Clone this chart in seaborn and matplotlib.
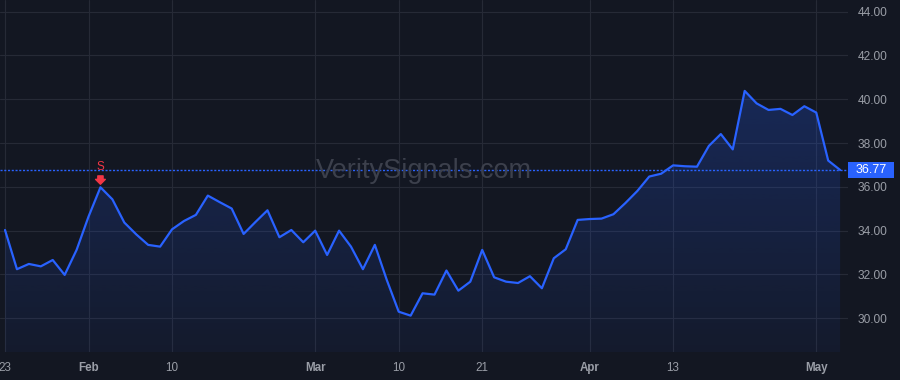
import numpy as np
import pandas as pd
import matplotlib
matplotlib.use("Agg")
import matplotlib.pyplot as plt
from matplotlib.patches import Rectangle
from matplotlib.colors import LinearSegmentedColormap
import matplotlib.transforms as mtransforms
import seaborn as sns

# ---------------- data ----------------
prices = [34.03, 32.24, 32.48, 32.37, 32.66, 31.98, 33.12, 34.64, 35.98, 35.43,
          34.37, 33.83, 33.35, 33.27, 34.06, 34.44, 34.72, 35.60, 35.30, 35.01,
          33.85, 34.40, 34.93, 33.70, 34.03, 33.47, 34.00, 32.89, 34.00, 33.27,
          32.24, 33.35, 31.75, 30.30, 30.12, 31.14, 31.08, 32.18, 31.26, 31.67,
          33.12, 31.87, 31.67, 31.61, 31.92, 31.37, 32.74, 33.15, 34.49, 34.53,
          34.55, 34.75, 35.26, 35.81, 36.47, 36.60, 36.98, 36.94, 36.92, 37.87,
          38.41, 37.71, 40.38, 39.81, 39.51, 39.56, 39.28, 39.68, 39.39, 37.20,
          36.77]
day_index = list(range(len(prices)))          # trading-day index (23 Jan .. 3 May)
tick_days = [0, 7, 14, 26, 33, 40, 49, 56, 68]
tick_labels = ["23", "Feb", "10", "Mar", "10", "21", "Apr", "13", "May"]
month_labels = {"Feb", "Mar", "Apr", "May"}
y_ticks = [30, 32, 34, 36, 38, 40, 42, 44]
signal_day = 8
signal_text = "S"
watermark = "VeritySignals.com"

df = pd.DataFrame({"day": day_index, "price": prices})

# ---------------- style ----------------
BG = "#131722"
GRID = "#262a36"
BLUE = "#2962ff"
RED = "#f23645"
TXT = "#9a9ea7"

sns.set_theme(style="dark", rc={
    "axes.facecolor": BG, "figure.facecolor": BG,
    "axes.edgecolor": BG, "grid.color": GRID,
})
plt.rcParams["font.family"] = ["Liberation Sans", "DejaVu Sans"]

fig = plt.figure(figsize=(9, 3.8), dpi=100)
ax = fig.add_axes([0.0, 28 / 380, 848 / 900, 352 / 380])
ax.set_facecolor(BG)

ylo, yhi = 28.46, 44.53

# gradient fill under the line
poly = ax.fill_between(df["day"], df["price"], ylo, color="none", lw=0)
path = poly.get_paths()[0]
cmap = LinearSegmentedColormap.from_list(
    "g", [(0, (41/255, 98/255, 1.0, 0.05)), (1, (41/255, 98/255, 1.0, 0.24))])
grad = np.linspace(0, 1, 256).reshape(-1, 1)
im = ax.imshow(grad, cmap=cmap, origin="lower", aspect="auto",
               extent=[df["day"].min(), df["day"].max(), ylo, max(prices)],
               zorder=1)
im.set_clip_path(path, transform=ax.transData)
ax.set_xlim(-0.42, 70.66)
ax.set_ylim(ylo, yhi)

sns.lineplot(data=df, x="day", y="price", ax=ax, color=BLUE, linewidth=1.6,
             zorder=3)

# last price dotted line + label
last = prices[-1]
ax.axhline(last, color=BLUE, lw=1.0, ls=(0, (1.5, 1.2)), zorder=2)
trans = mtransforms.blended_transform_factory(ax.transAxes, ax.transData)
box_h = 0.76
rect = Rectangle((1.0, last - box_h / 2), 46 / 848, box_h, transform=trans,
                 facecolor=BLUE, edgecolor="none", clip_on=False, zorder=5)
ax.add_patch(rect)
ax.text(1.0 + 23 / 848, last, f"{last:.2f}", transform=trans, ha="center",
        va="center", color="white", fontsize=9.0, clip_on=False, zorder=6)

# signal marker
peak = prices[signal_day]
ax.annotate("", xy=(signal_day, peak), xytext=(0, 8.2), textcoords="offset points",
            arrowprops=dict(arrowstyle="simple,head_length=0.35,head_width=0.7,tail_width=0.38",
                            color=RED, shrinkA=0, shrinkB=2.2, mutation_scale=10),
            zorder=6)
ax.annotate(signal_text, xy=(signal_day, peak), xytext=(0, 14.5),
            textcoords="offset points", ha="center", va="center",
            color=RED, fontsize=8.4, zorder=6)

# watermark
ax.text(0.5, 0.514, watermark, transform=ax.transAxes, ha="center", va="center",
        fontsize=19.5, color="#3c404c", zorder=2)

# axes / ticks
ax.yaxis.tick_right()
ax.set_yticks(y_ticks)
ax.set_yticklabels([f"{v:.2f}" for v in y_ticks])
ax.set_xticks(tick_days)
ax.set_xticklabels(tick_labels)
for lab in ax.get_xticklabels():
    if lab.get_text() in month_labels:
        lab.set_fontweight("bold")
ax.tick_params(axis="y", length=0, pad=7.2, labelsize=8.6, colors=TXT)
ax.tick_params(axis="x", length=0, pad=7.2, labelsize=8.4, colors=TXT)
ax.grid(True, color=GRID, lw=0.8)
ax.set_axisbelow(True)
ax.set_xlabel("")
ax.set_ylabel("")
for s in ax.spines.values():
    s.set_visible(False)

fig.savefig("out.png", dpi=100, facecolor=BG)
